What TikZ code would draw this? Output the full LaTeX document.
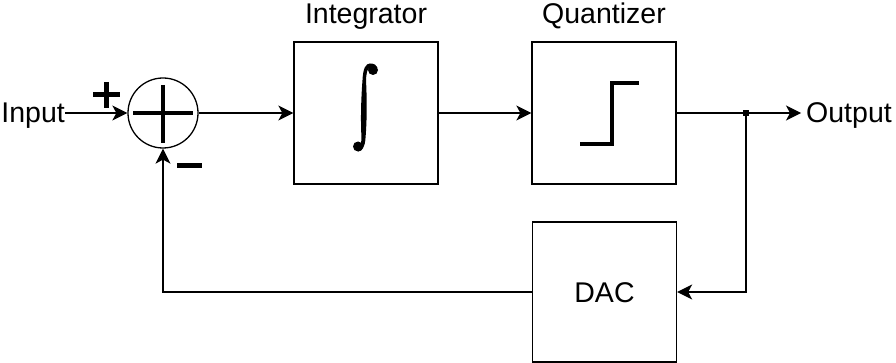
\documentclass[tikz,border=0pt]{standalone}
\usepackage{fontspec}
\setmainfont{Liberation Sans}
\usetikzlibrary{arrows.meta}

\tikzset{
  blockbox/.style={draw, line width=1.3pt, minimum width=144pt, minimum height=142pt, inner sep=0pt},
  sumnode/.style={draw, circle, line width=1.3pt, minimum size=70pt, inner sep=0pt},
  wire/.style={line width=1.3pt},
  sig/.style={wire, -{Stealth[length=15pt, width=15pt, inset=4pt]}},
  lbl/.style={inner sep=0pt, font=\fontsize{28.5}{34}\selectfont},
  glyph/.style={line width=4pt},
}

\begin{document}
\begin{tikzpicture}[x=1pt, y=-1pt]
  \useasboundingbox (0,0) rectangle (896,363);

  % blocks
  \node[sumnode] (sum) at (163,113) {};
  \node[blockbox] (int) at (366,113) {};
  \node[blockbox] (quant) at (604,113) {};
  \node[blockbox, minimum height=140pt] (dac) at (604.5,292) {};
  \node[lbl, anchor=base] (dactext) at (604.5,302) {DAC};

  % titles
  \node[lbl, anchor=base] (inttitle) at (366,24) {Integrator};
  \node[lbl, anchor=base] (quanttitle) at (604,24) {Quantizer};

  % input and output
  \node[lbl, anchor=base east] (input) at (65,123) {Input};
  \node[lbl, anchor=base west, inner xsep=0pt] (output) at (806,123) {Output};
  \coordinate (outtip) at (801,113);
  \node[fill, minimum size=5.5pt, inner sep=0pt] (tap) at (746,113) {};

  % cross inside the summing junction
  \draw[glyph] (133,113) -- (193,113);
  \draw[glyph] (163,85) -- (163,143);

  % sign labels
  \draw[line width=5pt] (93,95) -- (120,95);
  \draw[line width=5pt] (106.5,82) -- (106.5,108);
  \draw[line width=5pt] (177,166) -- (202,166);

  % integral sign: tapered stem with ball terminals
  \fill (362.5,80) .. controls (363,68) and (366,63.5) .. (370,63.5)
        .. controls (374,63.5) and (377,65) .. (377.5,68)
        -- (372,67)
        .. controls (368.5,66.5) and (366.5,70) .. (366,80)
        .. controls (367,100) and (367,120) .. (365.5,138)
        .. controls (365,147) and (362,151.5) .. (358,151.5)
        -- (357,146)
        .. controls (360,147) and (361.5,143) .. (361.5,138)
        .. controls (360.5,120) and (361,100) .. (362.5,80) -- cycle;
  \fill (373,70) circle (5pt);
  \fill (358,146.5) circle (5pt);

  % step characteristic
  \draw[line width=3.5pt, line join=miter] (580,144) -- (612,144) -- (612,83) -- (639,83);

  % forward path
  \draw[sig] (input.east |- sum.west) -- (sum.west);
  \draw[sig] (sum.east) -- (int.west);
  \draw[sig] (int.east) -- (quant.west);
  \draw[sig] (quant.east) -- (outtip);

  % feedback path
  \draw[sig] (tap.center) |- (dac.east);
  \draw[sig] (dac.west) -| (sum.south);
\end{tikzpicture}
\end{document}
